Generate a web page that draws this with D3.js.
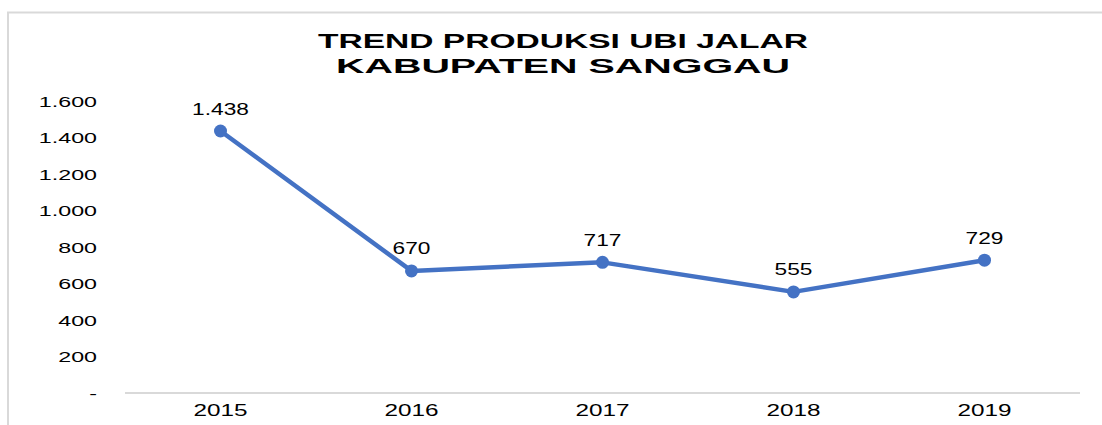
<!DOCTYPE html>
<html>
<head>
<meta charset="utf-8">
<script src="https://cdn.jsdelivr.net/npm/d3@7"></script>
<style>
  html, body { margin: 0; padding: 0; background: #fff; }
  svg { display: block; font-family: "Liberation Sans", Arial, sans-serif; }
</style>
</head>
<body>
<svg id="chart" width="1102" height="425"></svg>
<script>
const titleLines = ["TREND PRODUKSI UBI JALAR", "KABUPATEN SANGGAU"];
const years = ["2015", "2016", "2017", "2018", "2019"];
const production = [1438, 670, 717, 555, 729];
const yTicks = [0, 200, 400, 600, 800, 1000, 1200, 1400, 1600];

const svg = d3.select("#chart");
const W = 1102, H = 425;
const plot = { left: 125, right: 1080, top: 101.5, bottom: 393 };

const fmt = v => v === 0 ? "-" : d3.format(",")(v).replace(/,/g, ".");

const x = d3.scaleBand().domain(years).range([plot.left, plot.right]);
const y = d3.scaleLinear().domain([0, 1600]).range([plot.bottom, plot.top]);

// chart area border (top and left visible)
svg.append("path")
  .attr("d", `M8,${H} L8,12.5 L${W},12.5`)
  .attr("fill", "none").attr("stroke", "#d9d9d9").attr("stroke-width", 2);

// title
const titleBase = [48, 73];
const titleWidth = [490, 454];
titleLines.forEach((t, i) => {
  svg.append("text")
    .attr("x", 563).attr("y", titleBase[i])
    .attr("text-anchor", "middle")
    .attr("font-size", 21).attr("font-weight", "bold").attr("fill", "#000")
    .attr("textLength", titleWidth[i]).attr("lengthAdjust", "spacingAndGlyphs")
    .text(t);
});

// x axis line
svg.append("line")
  .attr("x1", plot.left).attr("x2", plot.right)
  .attr("y1", y(0)).attr("y2", y(0))
  .attr("stroke", "#d9d9d9").attr("stroke-width", 2);

// y tick labels
svg.append("g").selectAll("text").data(yTicks).join("text")
  .attr("transform", d => `translate(97,${y(d) + 5.5}) scale(1.55,1)`)
  .attr("text-anchor", "end")
  .attr("font-size", 15).attr("fill", "#000")
  .text(d => fmt(d));

// x tick labels
svg.append("g").selectAll("text").data(years).join("text")
  .attr("transform", d => `translate(${x(d) + x.bandwidth() / 2},416) scale(1.43,1)`)
  .attr("text-anchor", "middle")
  .attr("font-size", 17).attr("fill", "#000")
  .text(d => d);

const pts = years.map((yr, i) => ({ yr, v: production[i] }));

// line
svg.append("path")
  .datum(pts)
  .attr("d", d3.line().x(d => x(d.yr) + x.bandwidth() / 2).y(d => y(d.v)))
  .attr("fill", "none").attr("stroke", "#4472C4").attr("stroke-width", 4.5)
  .attr("stroke-linejoin", "round").attr("stroke-linecap", "round");

// markers
svg.append("g").selectAll("circle").data(pts).join("circle")
  .attr("cx", d => x(d.yr) + x.bandwidth() / 2)
  .attr("cy", d => y(d.v))
  .attr("r", 6.5)
  .attr("fill", "#4472C4");

// data labels
svg.append("g").selectAll("text").data(pts).join("text")
  .attr("transform", d => `translate(${x(d.yr) + x.bandwidth() / 2},${y(d.v) - 16.5}) scale(1.42,1)`)
  .attr("text-anchor", "middle")
  .attr("font-size", 16).attr("fill", "#000")
  .text(d => fmt(d.v));
</script>
</body>
</html>
